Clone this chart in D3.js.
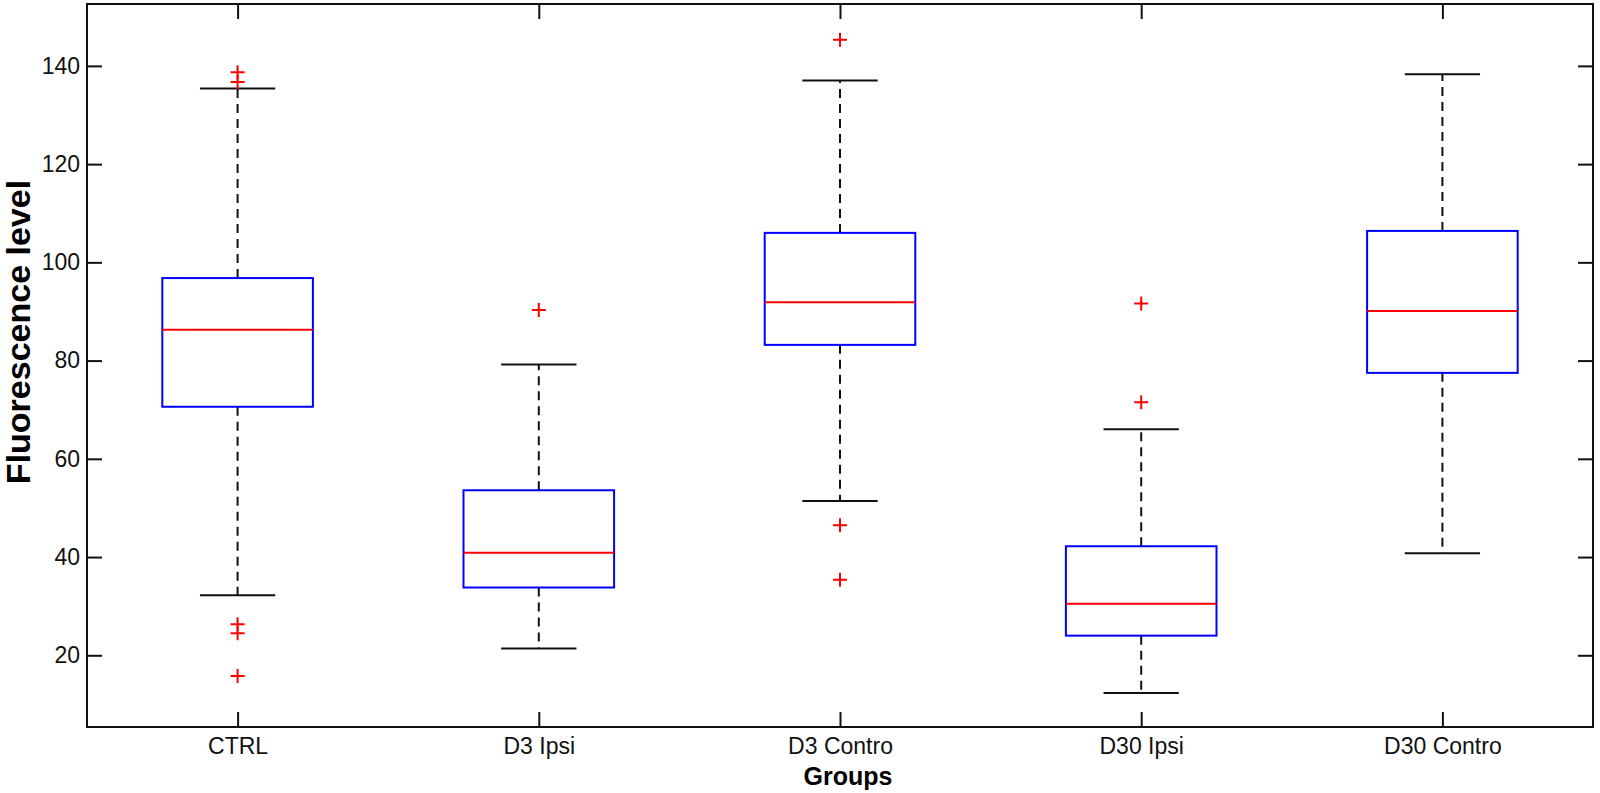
<!DOCTYPE html>
<html>
<head>
<meta charset="utf-8">
<script src="https://cdn.jsdelivr.net/npm/d3@7"></script>
<style>
  body { margin: 0; background: #fff; }
  svg { display: block; font-family: "Liberation Sans", Arial, Helvetica, sans-serif; }
</style>
</head>
<body>
<svg id="chart" width="1600" height="793"></svg>
<script>
// box statistics
const groups = ["CTRL", "D3 Ipsi", "D3 Contro", "D30 Ipsi", "D30 Contro"]
const whiskerLow = [32.2, 21.4, 51.4, 12.3, 40.8]
const q1 = [70.6, 33.8, 83.2, 24.0, 77.5]
const median = [86.3, 40.9, 91.9, 30.5, 90.1]
const q3 = [96.8, 53.6, 106.0, 42.2, 106.4]
const whiskerHigh = [135.4, 79.2, 137.0, 66.0, 138.3]
const outliers = [
  [138.7, 136.7, 26.3, 24.5, 15.8],
  [90.3],
  [145.3, 46.5, 35.4],
  [91.6, 71.5],
  []
]
const yTicks = [20, 40, 60, 80, 100, 120, 140]

const width = 1600
const height = 793
const margin = { top: 4, right: 7, bottom: 66, left: 87 }
const tick = 15

const svg = d3.select("#chart")

const x = d3
  .scaleLinear()
  .domain([0.5, groups.length + 0.5])
  .range([margin.left, width - margin.right])
const y = d3
  .scaleLinear()
  .domain([5.4, 152.6])
  .range([height - margin.bottom, margin.top])

const boxW = x(1.25) - x(1)
const capW = x(1.125) - x(1)

const data = groups.map((g, i) => ({
  name: g,
  pos: i + 1,
  lo: whiskerLow[i],
  q1: q1[i],
  med: median[i],
  q3: q3[i],
  hi: whiskerHigh[i],
  out: outliers[i]
}))

const boxes = svg
  .append("g")
  .selectAll("g")
  .data(data)
  .enter()
  .append("g")

// whiskers
boxes
  .append("line")
  .attr("x1", d => x(d.pos))
  .attr("x2", d => x(d.pos))
  .attr("y1", d => y(d.q3))
  .attr("y2", d => y(d.hi))
  .attr("stroke", "#111")
  .attr("stroke-width", 2)
  .attr("stroke-dasharray", "9,6")
boxes
  .append("line")
  .attr("x1", d => x(d.pos))
  .attr("x2", d => x(d.pos))
  .attr("y1", d => y(d.q1))
  .attr("y2", d => y(d.lo))
  .attr("stroke", "#111")
  .attr("stroke-width", 2)
  .attr("stroke-dasharray", "9,6")

// caps
boxes
  .selectAll(".cap")
  .data(d => [{ pos: d.pos, v: d.lo }, { pos: d.pos, v: d.hi }])
  .enter()
  .append("line")
  .attr("class", "cap")
  .attr("x1", d => x(d.pos) - capW)
  .attr("x2", d => x(d.pos) + capW)
  .attr("y1", d => y(d.v))
  .attr("y2", d => y(d.v))
  .attr("stroke", "#111")
  .attr("stroke-width", 2)

// box
boxes
  .append("rect")
  .attr("x", d => x(d.pos) - boxW)
  .attr("width", boxW * 2)
  .attr("y", d => y(d.q3))
  .attr("height", d => y(d.q1) - y(d.q3))
  .attr("fill", "none")
  .attr("stroke", "#0000ff")
  .attr("stroke-width", 2)

// median
boxes
  .append("line")
  .attr("x1", d => x(d.pos) - boxW)
  .attr("x2", d => x(d.pos) + boxW)
  .attr("y1", d => y(d.med))
  .attr("y2", d => y(d.med))
  .attr("stroke", "#ff0000")
  .attr("stroke-width", 2)

// outliers
boxes
  .selectAll(".out")
  .data(d => d.out.map(v => ({ pos: d.pos, v })))
  .enter()
  .append("path")
  .attr("class", "out")
  .attr("d", d => {
    const cx = x(d.pos), cy = y(d.v), r = 7
    return `M${cx - r},${cy}H${cx + r}M${cx},${cy - r}V${cy + r}`
  })
  .attr("stroke", "#ff0000")
  .attr("stroke-width", 2)
  .attr("fill", "none")

// axes, ticks pointing inward like matlab
const styleAxis = g => {
  g.select(".domain").remove()
  g.selectAll(".tick line").attr("stroke", "#111").attr("stroke-width", 2)
  g.selectAll(".tick text").attr("fill", "#111").style("font-size", "23px")
}

svg
  .append("g")
  .attr("transform", `translate(${margin.left},0)`)
  .call(d3.axisLeft(y).tickValues(yTicks).tickSize(-tick).tickPadding(7))
  .call(styleAxis)
svg
  .append("g")
  .attr("transform", `translate(${width - margin.right},0)`)
  .call(d3.axisRight(y).tickValues(yTicks).tickSize(-tick).tickFormat(""))
  .call(styleAxis)
svg
  .append("g")
  .attr("transform", `translate(0,${height - margin.bottom})`)
  .call(
    d3
      .axisBottom(x)
      .tickValues(data.map(d => d.pos))
      .tickFormat(i => groups[i - 1])
      .tickSize(-tick)
      .tickPadding(11)
  )
  .call(styleAxis)
svg
  .append("g")
  .attr("transform", `translate(0,${margin.top})`)
  .call(
    d3
      .axisTop(x)
      .tickValues(data.map(d => d.pos))
      .tickSize(-tick)
      .tickFormat("")
  )
  .call(styleAxis)

svg
  .append("rect")
  .attr("x", margin.left)
  .attr("y", margin.top)
  .attr("width", width - margin.left - margin.right)
  .attr("height", height - margin.top - margin.bottom)
  .attr("fill", "none")
  .attr("stroke", "#111")
  .attr("stroke-width", 2)

svg
  .append("text")
  .attr("x", 848)
  .attr("y", 785)
  .attr("text-anchor", "middle")
  .style("font-size", "25px")
  .style("font-weight", "bold")
  .text("Groups")

svg
  .append("text")
  .attr("transform", `translate(30,332) rotate(-90)`)
  .attr("text-anchor", "middle")
  .style("font-size", "34px")
  .style("font-weight", "bold")
  .text("Fluorescence level")
</script>
</body>
</html>
